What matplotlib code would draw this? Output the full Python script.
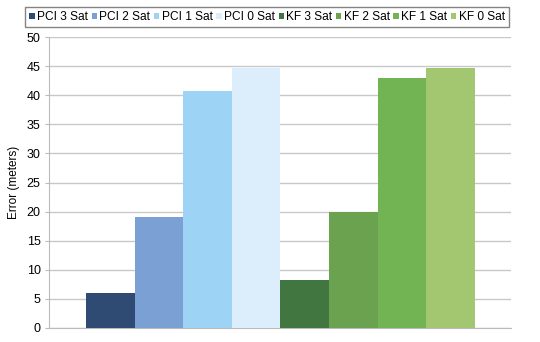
import matplotlib
matplotlib.use("Agg")
import matplotlib.pyplot as plt

plt.rcParams['font.family'] = ['Liberation Sans', 'DejaVu Sans']

series = ["PCI 3 Sat", "PCI 2 Sat", "PCI 1 Sat", "PCI 0 Sat",
          "KF 3 Sat", "KF 2 Sat", "KF 1 Sat", "KF 0 Sat"]
values = [6.0, 19.0, 40.8, 44.6, 8.2, 20.0, 43.0, 44.6]
colors = ["#2F4B74", "#7BA0D4", "#9DD3F5", "#DCEEFC",
          "#417640", "#6AA250", "#72B454", "#A2C770"]
yticks = [0, 5, 10, 15, 20, 25, 30, 35, 40, 45, 50]

fig = plt.figure(figsize=(5.4, 3.42), dpi=100)
ax = fig.add_axes([49/540, 1-328/342, (511-49)/540, (328-37)/342])

handles = []
for i, (s, v, c) in enumerate(zip(series, values, colors)):
    b = ax.bar(i, v, width=1.0, color=c, label=s, zorder=3)
    handles.append(b)

ax.set_xlim(-1.26, 8.24)
ax.set_ylim(0, 50)
ax.set_yticks(yticks)
ax.set_xticks([])
ax.tick_params(axis='y', length=3, color='#BBBBBB', labelsize=9, pad=3)
ax.grid(axis='y', color='#C8C8C8', linewidth=1, zorder=0)
for sp in ['top', 'right']:
    ax.spines[sp].set_visible(False)
ax.spines['left'].set_color('#BBBBBB')
ax.spines['bottom'].set_color('#BBBBBB')
ax.set_ylabel("Error (meters)", fontsize=8.5, labelpad=5)

leg = fig.legend(handles=handles, labels=series, ncol=8, loc='upper center',
                 bbox_to_anchor=(267/540, 1-1/342), fontsize=8.6,
                 handlelength=0.45, handleheight=0.45, handletextpad=0.2,
                 columnspacing=0.3, borderpad=0.35, fancybox=False,
                 frameon=True, edgecolor='#666666')
leg.get_frame().set_linewidth(1.0)

fig.savefig("out.png", dpi=100)
